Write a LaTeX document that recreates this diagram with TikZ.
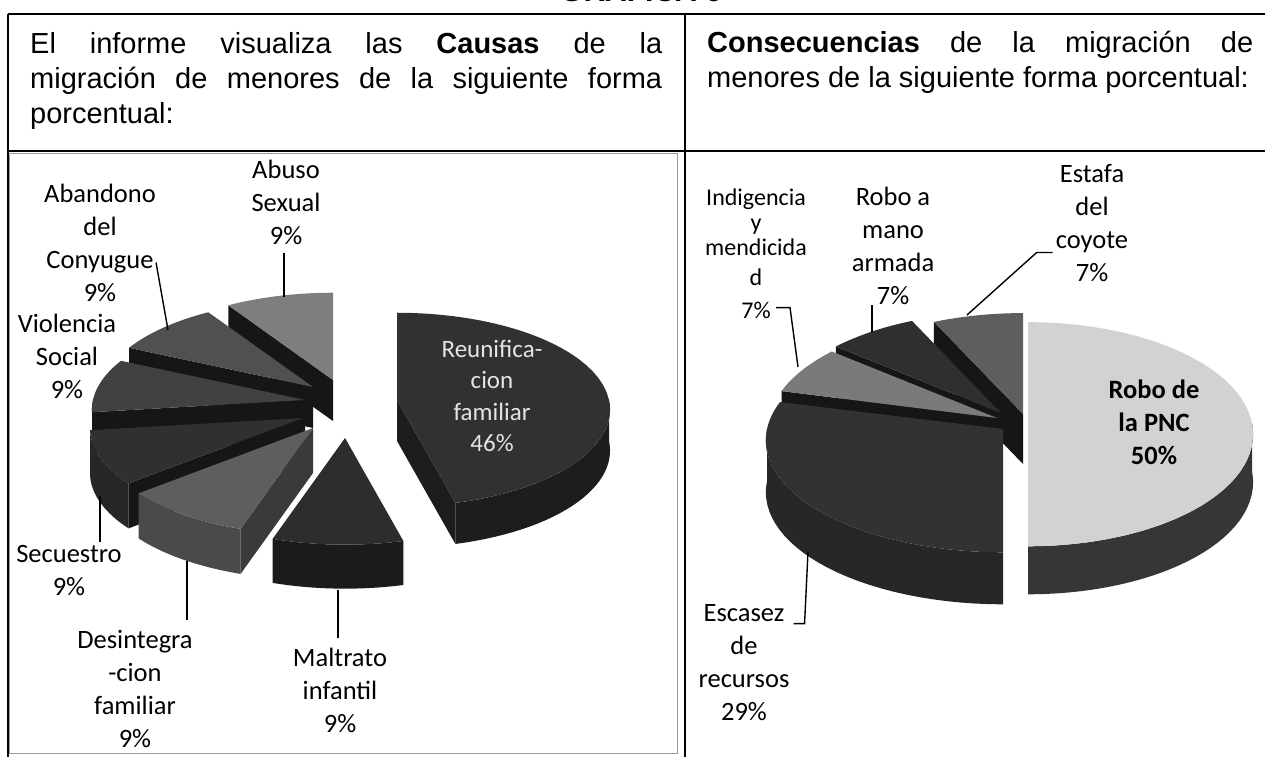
\documentclass[tikz,border=0pt]{standalone}
\usepackage{fontspec}
\setmainfont{Liberation Sans}
\newfontfamily\calibri{Carlito}
\usetikzlibrary{calc}
\def\pp{0.1}% perspective factor
% top face: cx cy rx ry a1 a2 colour
\newcommand{\sliceTop}[7]{\fill[#7] ({#1},{#2}) -- plot[domain=#5:#6,samples=40] ({#1+#3*cos(\x)/(1+\pp*sin(\x))},{#2-#4*sin(\x)/(1+\pp*sin(\x))}) -- cycle;}
% outer wall: cx cy rx ry h t1 t2 colour
\newcommand{\sliceWall}[8]{\fill[#8] plot[domain=#6:#7,samples=30] ({#1+#3*cos(\x)/(1+\pp*sin(\x))},{#2-#4*sin(\x)/(1+\pp*sin(\x))}) -- plot[domain=#7:#6,samples=30] ({#1+#3*cos(\x)/(1+\pp*sin(\x))},{#2+#5-#4*sin(\x)/(1+\pp*sin(\x))}) -- cycle;}
% cut face: cx cy rx ry h a colour
\newcommand{\sliceFace}[7]{\fill[#7] ({#1},{#2}) -- ({#1+#3*cos(#6)/(1+\pp*sin(#6))},{#2-#4*sin(#6)/(1+\pp*sin(#6))}) -- ({#1+#3*cos(#6)/(1+\pp*sin(#6))},{#2+#5-#4*sin(#6)/(1+\pp*sin(#6))}) -- ({#1},{#2+#5}) -- cycle;}
\definecolor{abusoT}{HTML}{7E7E7E}
\definecolor{abanT}{HTML}{505050}
\definecolor{violT}{HTML}{414141}
\definecolor{secuT}{HTML}{303030}
\definecolor{secuW}{HTML}{272727}
\definecolor{desT}{HTML}{5E5E5E}
\definecolor{desW}{HTML}{4A4A4A}
\definecolor{desF}{HTML}{3A3A3A}
\definecolor{reunT}{HTML}{313131}
\definecolor{reunW}{HTML}{1D1D1D}
\definecolor{malT}{HTML}{2D2D2D}
\definecolor{malW}{HTML}{1B1B1B}
\definecolor{blackW}{HTML}{161616}
\definecolor{pncT}{HTML}{D2D2D2}
\definecolor{pncW}{HTML}{363636}
\definecolor{escT}{HTML}{323232}
\definecolor{escW}{HTML}{272727}
\definecolor{indT}{HTML}{7A7A7A}
\definecolor{roboT}{HTML}{2F2F2F}
\definecolor{estT}{HTML}{5E5E5E}
\definecolor{frameG}{HTML}{9A9A9A}
\begin{document}
\begin{tikzpicture}[x=1pt,y=-1pt,
  lbl/.style={font=\calibri\fontsize{26.5}{33}\selectfont, align=center, inner sep=0pt, text=black},
  hdr/.style={font=\fontsize{29}{35}\selectfont, anchor=base west, inner sep=0pt},
  leader/.style={draw=black, line width=1.4pt},
  rule/.style={draw=black, line width=1.6pt}]
\useasboundingbox (0,0) rectangle (1265,757);
\fill[white] (0,0) rectangle (1265,757);

% ---------- title (cut off at the top) ----------
\node[font=\bfseries\fontsize{30}{30}\selectfont, anchor=base west, inner sep=0pt] (title) at (560,1.5) {GRAFICA 6};

% ---------- table ----------
\draw[frameG, line width=0.8pt] (9,153) rectangle (677,753);
\draw[rule] (8,14) -- (1265,14);
\draw[rule] (8,151) -- (1265,151);
\draw[rule] (8,14) -- (8,757);
\draw[rule, line width=2pt] (685,14) -- (685,757);

% ---------- header texts ----------
\node[hdr] (h1) at (30,54) {\makebox[632pt][s]{El informe visualiza las \textbf{Causas} de la}};
\node[hdr] (h2) at (30,89) {\makebox[632pt][s]{migración de menores de la siguiente forma}};
\node[hdr] (h3) at (30,124) {porcentual:};
\node[hdr] (h4) at (707,53) {\makebox[546pt][s]{\textbf{Consecuencias} de la migración de}};
\node[hdr] (h5) at (707,88) {menores de la siguiente forma porcentual:};

% ---------- left pie (causas) ----------
% Abuso sexual
\sliceFace{333}{380}{212}{96}{41}{122.4}{blackW}
\sliceTop{333}{380}{212}{96}{90}{122.4}{abusoT}
% Abandono del conyugue
\sliceFace{313}{387}{212}{96}{41}{154.8}{blackW}
\sliceTop{313}{387}{212}{96}{122.4}{154.8}{abanT}
% Violencia social
\sliceWall{305}{400}{212}{96}{41}{180}{187.2}{secuW}
\sliceFace{305}{400}{212}{96}{41}{187.2}{blackW}
\sliceTop{305}{400}{212}{96}{154.8}{187.2}{violT}
% Secuestro
\sliceWall{303}{418}{212}{96}{45}{-172.8}{-140.4}{secuW}
\sliceFace{303}{418}{212}{96}{45}{-140.4}{blackW}
\sliceTop{303}{418}{212}{96}{-172.8}{-140.4}{secuT}
% Desintegracion familiar
\sliceWall{313}{428}{212}{96}{45}{-140.4}{-108}{desW}
\sliceFace{313}{428}{212}{96}{45}{-108}{desF}
\sliceTop{313}{428}{212}{96}{-140.4}{-108}{desT}
% Reunificacion familiar
\sliceFace{397}{400}{212}{96}{41}{-75.6}{reunW}
\sliceWall{397}{400}{212}{96}{41}{-75.6}{0}{reunW}
\sliceTop{397}{400}{212}{96}{-75.6}{90}{reunT}
% Maltrato infantil
\sliceWall{345}{438}{212}{96}{44}{-108}{-75.6}{malW}
\sliceTop{345}{438}{212}{96}{-108}{-75.6}{malT}

% ---------- right pie (consecuencias) ----------
% Estafa del coyote
\sliceFace{1023}{414}{228}{111}{50}{115.2}{blackW}
\sliceTop{1023}{414}{228}{111}{90}{115.2}{estT}
% Robo a mano armada
\sliceFace{1001}{413}{228}{111}{50}{140.4}{blackW}
\sliceTop{1001}{413}{228}{111}{115.2}{140.4}{roboT}
% Indigencia
\sliceFace{997}{418}{228}{111}{50}{165.6}{blackW}
\sliceTop{997}{418}{228}{111}{140.4}{165.6}{indT}
% Escasez de recursos
\sliceWall{1003}{429}{236}{111}{52}{180}{270}{escW}
\sliceTop{1003}{429}{236}{111}{165.6}{270}{escT}
% Robo de la PNC
\sliceWall{1028}{423}{224}{111}{48}{-90}{0}{pncW}
\sliceTop{1028}{423}{224}{111}{-90}{90}{pncT}

% ---------- left labels ----------
\node[lbl] (abuso) at (286,202) {Abuso\\Sexual\\9\%};
\node[lbl] (aband) at (100,242.5) {Abandono\\del\\Conyugue\\9\%};
\node[lbl] (viol) at (67,356) {Violencia\\Social\\9\%};
\node[lbl] (secu) at (69,571) {Secuestro\\9\%};
\node[lbl] (desint) at (135,688.5) {Desintegra\\-cion\\familiar\\9\%};
\node[lbl] (malt) at (340,690.5) {Maltrato\\infantil\\9\%};
\node[lbl, text={rgb,255:red,228;green,228;blue,228}, font=\calibri\fontsize{25}{31.5}\selectfont] (reun) at (492,396) {Reunifica-\\cion\\familiar\\46\%};

\coordinate (abusoE) at (284,297);
\coordinate (abanE) at (168,330);
\coordinate (secuP) at (100,496);
\coordinate (desP) at (187,561);
\coordinate (malP) at (338,590);
\draw[leader] ($(abuso.south -| abusoE)+(0,8)$) -- (abusoE);
\draw[leader] ($(aband.east)+(0,20)$) -- (abanE);
\draw[leader] (secuP) -- ($(secuP |- secu.north)+(0,-4)$);
\draw[leader] (desP) -- ($(desP |- desint.north)+(0,-10)$);
\draw[leader] (malP) -- ($(malP |- malt.north)+(0,-10)$);

% ---------- right labels ----------
\node[lbl, font=\calibri\fontsize{24}{25}\selectfont] (ind) at (756,253.5) {Indigencia\\y\\mendicida\\[5pt]d\\[8pt]7\%};
\node[lbl] (robo) at (893,246) {Robo a\\mano\\armada\\7\%};
\node[lbl] (est) at (1092,223.5) {Estafa\\del\\coyote\\7\%};
\node[lbl, font=\calibri\bfseries\fontsize{26.5}{33}\selectfont] (pnc) at (1154,422) {Robo de\\la PNC\\50\%};
\node[lbl] (esc) at (744,663) {Escasez\\de\\recursos\\29\%};

\coordinate (indE) at (798,367);
\coordinate (roboE) at (872,332);
\coordinate (estE) at (967,315);
\coordinate (escE) at (808,552);
\draw[leader] ($(ind.south)+(20,-11)$) -- ++(14,0) -- (indE);
\draw[leader] (robo.south -| roboE) -- (roboE);
\draw[leader] ($(est.west)+(-3,29)$) -- ++(-16,0) -- (estE);
\draw[leader] ($(esc.north east)+(4,19)$) -- ++(11,0) -- (escE);
\end{tikzpicture}
\end{document}
